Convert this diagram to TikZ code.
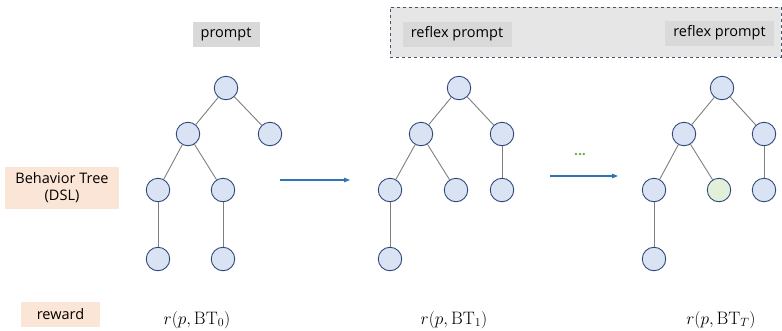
\documentclass[tikz,border=0pt]{standalone}
\usepackage{fontspec}
\newfontfamily\labelfont{Open Sans}
\usetikzlibrary{arrows.meta}
\definecolor{nodefill}{HTML}{DAE3F3}
\definecolor{nodedraw}{HTML}{2F4A7A}
\definecolor{greenfill}{HTML}{E2F0D9}
\definecolor{edgecol}{HTML}{7F7F7F}
\definecolor{arrowcol}{HTML}{2E75B6}
\definecolor{promptfill}{HTML}{D9D9D9}
\definecolor{panelfill}{HTML}{E7E6E6}
\definecolor{paneldraw}{HTML}{44546A}
\definecolor{peach}{HTML}{FBE5D6}
\definecolor{dotgreen}{HTML}{70AD47}
\tikzset{
  tn/.style={circle, draw=nodedraw, fill=nodefill, line width=0.9pt, minimum size=23.5pt, inner sep=0pt},
  tngreen/.style={tn, fill=greenfill},
  edge/.style={draw=edgecol, line width=0.9pt},
  flow/.style={draw=arrowcol, line width=1.1pt, -{Triangle[length=6pt,width=4.5pt]}},
  lbl/.style={font=\labelfont\fontsize{14.5}{17}\selectfont, inner sep=0pt, text=black},
  mathlbl/.style={font=\fontsize{18}{20}\selectfont, inner sep=0pt},
}
\begin{document}
\begin{tikzpicture}[x=1pt,y=-1pt]
\useasboundingbox (0,0) rectangle (782,330);
% dashed panel
\node[draw=paneldraw, fill=panelfill, dashed, line width=0.9pt, minimum width=391pt, minimum height=50pt, inner sep=0pt] (panel) at (585.5,32) {};
% prompt boxes
\node[lbl, fill=promptfill, minimum width=67pt, minimum height=25pt] (p0) at (226,34) {prompt};
\node[lbl, fill=promptfill, minimum width=109pt, minimum height=25pt] (p1) at (457,34) {reflex prompt};
\node[lbl, fill=promptfill, minimum width=109pt, minimum height=25pt] (p2) at (719.5,33) {reflex prompt};
% side labels
\node[lbl, fill=peach, minimum width=114pt, minimum height=42pt, align=center] (bt) at (62,188) {Behavior Tree\\(DSL)};
\node[lbl, fill=peach, minimum width=79pt, minimum height=25pt] (rw) at (60.5,314) {reward};
% tree 1
\node[tn] (a1) at (226,88) {};
\node[tn] (a2) at (188,134) {};
\node[tn] (a3) at (270,134) {};
\node[tn] (a4) at (158,190) {};
\node[tn] (a5) at (223,190) {};
\node[tn] (a6) at (158,259) {};
\node[tn] (a7) at (223,259) {};
\draw[edge] (a1) -- (a2);
\draw[edge] (a1) -- (a3);
\draw[edge] (a2) -- (a4);
\draw[edge] (a2) -- (a5);
\draw[edge] (a4) -- (a6);
\draw[edge] (a5) -- (a7);
% tree 2
\node[tn] (b1) at (459,88) {};
\node[tn] (b2) at (421,134) {};
\node[tn] (b3) at (502,134) {};
\node[tn] (b4) at (390,190) {};
\node[tn] (b5) at (456,190) {};
\node[tn] (b6) at (502,190) {};
\node[tn] (b7) at (390,259) {};
\draw[edge] (b1) -- (b2);
\draw[edge] (b1) -- (b3);
\draw[edge] (b2) -- (b4);
\draw[edge] (b2) -- (b5);
\draw[edge] (b3) -- (b6);
\draw[edge] (b4) -- (b7);
% tree 3
\node[tn] (c1) at (722,88) {};
\node[tn] (c2) at (684,134) {};
\node[tn] (c3) at (764,134) {};
\node[tn] (c4) at (654,190) {};
\node[tngreen] (c5) at (719,190) {};
\node[tn] (c6) at (764,190) {};
\node[tn] (c7) at (654,259) {};
\draw[edge] (c1) -- (c2);
\draw[edge] (c1) -- (c3);
\draw[edge] (c2) -- (c4);
\draw[edge] (c2) -- (c5);
\draw[edge] (c3) -- (c6);
\draw[edge] (c4) -- (c7);
% arrows
\coordinate (f1s) at (280,180);
\coordinate (f1e) at (350,180);
\coordinate (f2s) at (550,176);
\coordinate (f2e) at (618,176);
\draw[flow] (f1s) -- (f1e);
\draw[flow] (f2s) -- (f2e);
\node[font=\labelfont\bfseries\fontsize{14}{16}\selectfont, text=dotgreen, inner sep=0pt] (dots) at (580,155) {...};
% reward math
\node[mathlbl] (r0) at (197,320) {$r(p,\mathrm{BT}_0)$};
\node[mathlbl] (r1) at (454,320) {$r(p,\mathrm{BT}_1)$};
\node[mathlbl] (r2) at (721,320) {$r(p,\mathrm{BT}_T)$};
\end{tikzpicture}
\end{document}
